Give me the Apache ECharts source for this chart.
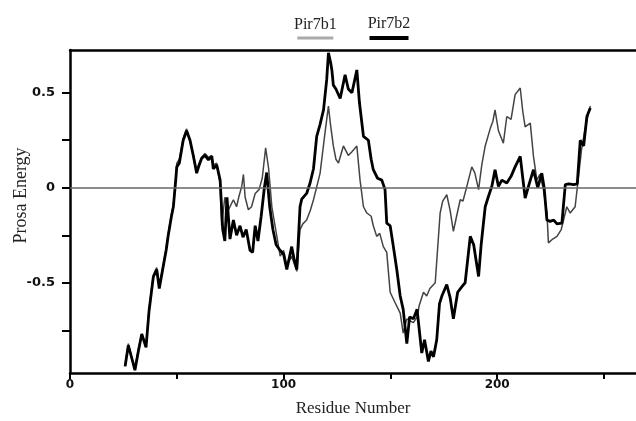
<html>
<head>
<meta charset="utf-8">
<title>Prosa Energy</title>
<script src="https://cdn.jsdelivr.net/npm/echarts@6/dist/echarts.min.js"></script>
<style>
  html, body { margin: 0; padding: 0; background: #fff; }
  #main { width: 636px; height: 421px; }
</style>
</head>
<body>
<div id="main"></div>
<script>
// residue positions and energies
var pir7b1Res = [25.8, 27.3, 29, 30.4, 32, 33.6, 35.6, 37, 39, 40.6, 41.8, 43.7, 45, 46, 47.5, 48.4, 49.5, 50, 51.2, 53, 54.6, 56.2, 57.8, 59.3, 60.5, 61.7, 63.2, 64.8, 66.4, 67.1, 68.7, 70.3, 71, 72.5, 74, 76.5, 78, 79, 80.4, 81.2, 82, 83.5, 85, 86.7, 88.5, 90, 91.6, 93, 94.5, 96, 98.4, 100, 101.5, 103.8, 105, 106.2, 107.7, 109, 110.8, 112.5, 114, 116.3, 117.1, 119.4, 121, 122, 123.3, 124.5, 125.7, 128, 130.3, 132, 134.3, 135.8, 137.4, 139, 141, 142, 143.6, 145, 146.7, 148.3, 149.9, 152, 154.6, 156, 157.7, 159, 160.8, 162.5, 163.5, 165.5, 167, 168.5, 171, 173.3, 174.5, 176.4, 178, 179.5, 181, 182.7, 184, 185.8, 188.1, 189.5, 191.3, 192.8, 194.4, 196.7, 198, 199, 200.6, 202.9, 204.5, 206.5, 208.4, 210.8, 212, 213.1, 215.5, 217, 218.6, 220, 221.5, 223.3, 224, 226, 228, 230, 232.6, 234.2, 236.5, 238, 239.5, 241, 242.5, 243.6];
var pir7b1Energy = [-0.93, -0.82, -0.9, -0.95, -0.85, -0.77, -0.83, -0.64, -0.46, -0.42, -0.52, -0.4, -0.32, -0.24, -0.14, -0.09, 0.05, 0.13, 0.15, 0.26, 0.31, 0.24, 0.17, 0.09, 0.13, 0.16, 0.18, 0.16, 0.17, 0.12, 0.13, 0.02, -0.2, -0.05, -0.12, -0.063, -0.1, -0.05, 0.007, 0.07, -0.05, -0.116, -0.1, -0.03, -0.01, 0.05, 0.21, 0.1, -0.1, -0.2, -0.36, -0.33, -0.41, -0.36, -0.4, -0.44, -0.22, -0.19, -0.17, -0.12, -0.063, 0.04, 0.077, 0.29, 0.43, 0.33, 0.22, 0.15, 0.13, 0.22, 0.17, 0.19, 0.22, 0.04, -0.1, -0.133, -0.15, -0.2, -0.256, -0.24, -0.31, -0.34, -0.55, -0.6, -0.66, -0.765, -0.69, -0.7, -0.71, -0.68, -0.62, -0.55, -0.57, -0.53, -0.5, -0.133, -0.07, -0.037, -0.12, -0.23, -0.15, -0.063, -0.07, 0.007, 0.11, 0.08, -0.01, 0.12, 0.22, 0.31, 0.35, 0.41, 0.3, 0.235, 0.375, 0.36, 0.49, 0.525, 0.4, 0.32, 0.34, 0.165, 0.04, 0.07, 0, -0.133, -0.29, -0.27, -0.256, -0.22, -0.1, -0.133, -0.1, 0.05, 0.2, 0.3, 0.38, 0.43];

var pir7b2Res = [25.8, 27.3, 29, 30.4, 32, 33.6, 35.6, 37, 39, 40.6, 41.8, 43.7, 45, 46, 47.5, 48.4, 49.5, 50, 51.2, 53, 54.6, 56.2, 57.8, 59.3, 60.5, 61.7, 63.2, 64.8, 66.4, 67.1, 68.7, 70.3, 71.5, 72.5, 73.5, 74.9, 76.5, 78, 79.6, 81, 82.5, 84.3, 85.5, 86.7, 88, 89.5, 91, 92.1, 93.5, 95, 96.5, 98.4, 100, 101.5, 103.8, 105, 106.2, 107.7, 108.5, 110.8, 112.4, 114, 115.5, 117, 118.7, 120.2, 121, 122, 122.6, 123.3, 124.5, 126.5, 128.8, 130.3, 132, 134.3, 135.5, 137.4, 139.7, 141, 142, 144, 146, 147.5, 148.3, 149.9, 151.4, 153, 154.6, 156, 157.7, 159, 160.8, 162.5, 164.7, 166, 167.8, 169, 170.2, 171.7, 173, 174.1, 176.4, 178, 179.5, 181.5, 183.5, 185, 187.4, 189, 191.3, 192.5, 194.4, 195.9, 197.5, 199, 200.6, 202.2, 204.5, 206.5, 208.4, 210.8, 212, 213.1, 215, 217, 219, 220.9, 222, 223.3, 224.8, 226.5, 228, 230.3, 231.9, 233.5, 235.8, 237.5, 238.9, 240.5, 242, 243.6];
var pir7b2Energy = [-0.94, -0.83, -0.9, -0.96, -0.86, -0.77, -0.84, -0.65, -0.47, -0.43, -0.53, -0.41, -0.33, -0.25, -0.15, -0.1, 0.04, 0.11, 0.13, 0.25, 0.3, 0.25, 0.165, 0.077, 0.12, 0.156, 0.17, 0.147, 0.165, 0.1, 0.12, 0.04, -0.22, -0.28, -0.05, -0.27, -0.17, -0.25, -0.2, -0.26, -0.22, -0.33, -0.34, -0.2, -0.28, -0.15, 0.0, 0.08, -0.1, -0.22, -0.3, -0.33, -0.35, -0.43, -0.31, -0.38, -0.43, -0.1, -0.06, -0.03, 0.025, 0.1, 0.27, 0.33, 0.41, 0.57, 0.71, 0.66, 0.62, 0.54, 0.52, 0.47, 0.595, 0.52, 0.5, 0.62, 0.45, 0.27, 0.25, 0.15, 0.095, 0.05, 0.04, -0.01, -0.186, -0.2, -0.31, -0.43, -0.57, -0.64, -0.82, -0.68, -0.69, -0.64, -0.87, -0.8, -0.914, -0.86, -0.89, -0.8, -0.61, -0.57, -0.51, -0.58, -0.69, -0.55, -0.52, -0.5, -0.256, -0.3, -0.467, -0.3, -0.1, -0.046, 0.007, 0.095, 0.007, 0.04, 0.025, 0.06, 0.11, 0.165, 0.05, -0.054, 0.02, 0.095, 0, 0.077, 0, -0.17, -0.177, -0.17, -0.19, -0.186, 0.016, 0.02, 0.016, 0.02, 0.25, 0.22, 0.375, 0.42];

var xTicks = [0, 50, 100, 150, 200, 250];
var xLabels = [0, 100, 200];
var yTicks = [-0.75, -0.5, -0.25, 0, 0.25, 0.5];
var yLabels = [-0.5, 0, 0.5];

function pairs(res, vals) {
  var out = [];
  for (var i = 0; i < res.length; i++) out.push([res[i], vals[i]]);
  return out;
}

var chart = echarts.init(document.getElementById('main'));
var option = {
  animation: false,
  grid: { left: 70, right: 0, top: 50, bottom: 48, outerBoundsMode: 'none' },
  legend: {
    data: ['Pir7b1', 'Pir7b2'],
    top: 11,
    left: 284,
    icon: 'none',
    itemWidth: 0,
    itemHeight: 0,
    itemGap: 26,
    formatter: function (name) {
      return '{t|' + name + '}\n{' + (name === 'Pir7b1' ? 'g' : 'k') + '|}';
    },
    textStyle: {
      rich: {
        t: { fontFamily: 'Liberation Serif', fontSize: 16, color: '#222', align: 'center', lineHeight: 24 },
        g: { width: 36, height: 3, backgroundColor: '#aaa', align: 'center' },
        k: { width: 39, height: 4, backgroundColor: '#000', align: 'center' }
      }
    }
  },
  xAxis: [{
    type: 'value',
    min: 0,
    max: 265,
    name: 'Residue Number',
    nameLocation: 'middle',
    nameGap: 27,
    nameTextStyle: { fontFamily: 'Liberation Serif', fontSize: 17, color: '#222' },
    axisLine: { onZero: false, lineStyle: { color: '#000', width: 2.5 } },
    axisTick: { customValues: xTicks, length: 6, lineStyle: { color: '#000', width: 2 } },
    axisLabel: {
      customValues: xLabels,
      margin: 6,
      fontFamily: 'DejaVu Sans',
      fontWeight: 'bold',
      fontSize: 12,
      color: '#111'
    },
    splitLine: { show: false }
  }, {
    type: 'value',
    position: 'top',
    min: 0,
    max: 265,
    axisLine: { onZero: false, lineStyle: { color: '#000', width: 2.5 } },
    axisTick: { show: false },
    axisLabel: { show: false },
    splitLine: { show: false }
  }],
  yAxis: {
    type: 'value',
    min: -0.975,
    max: 0.725,
    name: 'Prosa Energy',
    nameLocation: 'middle',
    nameGap: 40,
    nameMoveOverlap: false,
    nameTextStyle: { fontFamily: 'Liberation Serif', fontSize: 18, color: '#222', padding: [0, 0, 0, 32] },
    axisLine: { show: true, onZero: false, lineStyle: { color: '#000', width: 2.5 } },
    axisTick: { show: true, customValues: yTicks, length: 8, lineStyle: { color: '#000', width: 2 } },
    axisLabel: {
      customValues: yLabels,
      margin: 15,
      fontFamily: 'DejaVu Sans',
      fontWeight: 'bold',
      fontSize: 13,
      color: '#111',
      formatter: function (v) { return String(v); }
    },
    splitLine: { show: false }
  },
  series: [{
    name: 'Pir7b1',
    type: 'line',
    data: pairs(pir7b1Res, pir7b1Energy),
    showSymbol: false,
    lineStyle: { color: '#444', width: 1.5 },
    itemStyle: { color: '#444' },
    markLine: {
      silent: true,
      symbol: 'none',
      label: { show: false },
      lineStyle: { color: '#666', width: 1.6, type: 'solid' },
      data: [{ yAxis: 0 }]
    }
  }, {
    name: 'Pir7b2',
    type: 'line',
    data: pairs(pir7b2Res, pir7b2Energy),
    showSymbol: false,
    lineStyle: { color: '#000', width: 2.8 },
    itemStyle: { color: '#000' }
  }]
};
chart.setOption(option);
</script>
</body>
</html>
